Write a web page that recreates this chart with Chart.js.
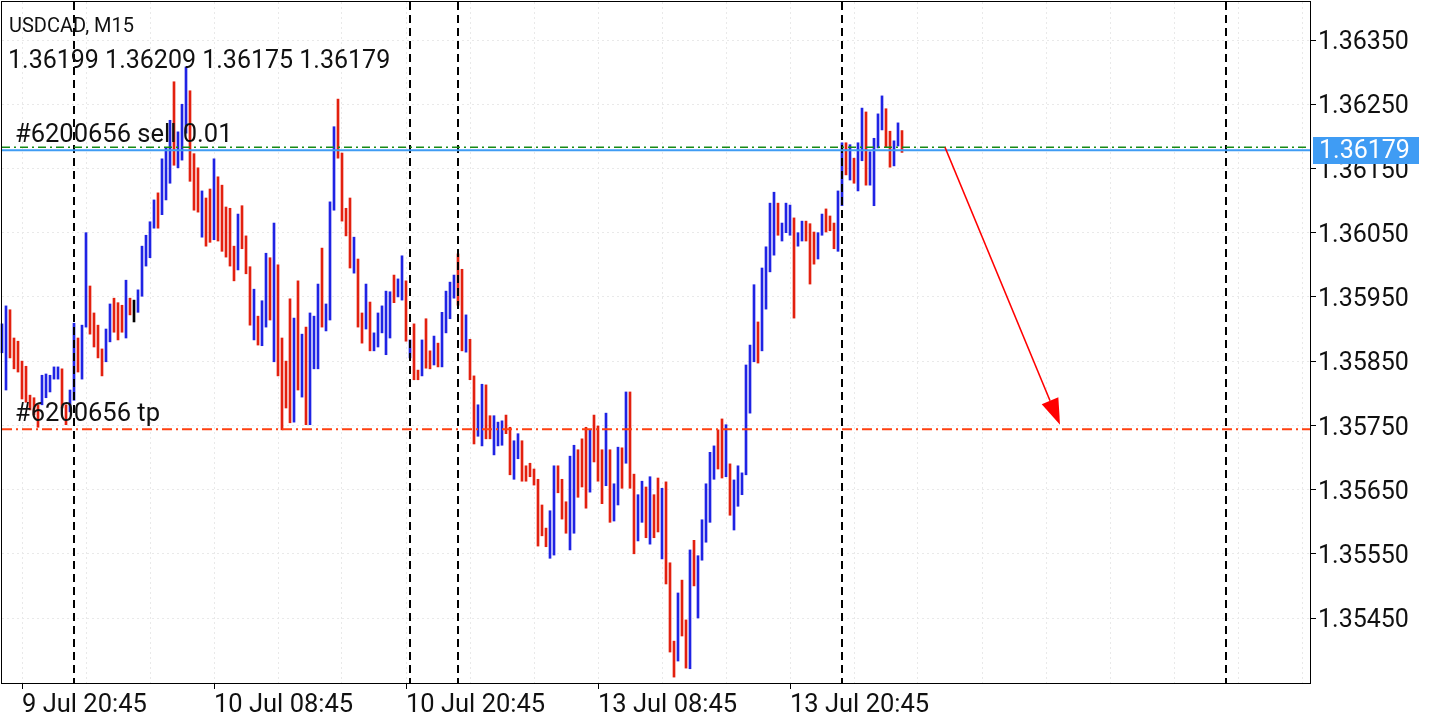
<!DOCTYPE html>
<html><head><meta charset="utf-8">
<script src="https://cdn.jsdelivr.net/npm/chart.js@4.4.1/dist/chart.umd.min.js"></script>
<style>html,body{margin:0;padding:0;background:#fff;}canvas{display:block;}</style>
</head><body>
<canvas id="c" width="1440" height="720"></canvas>
<script>
// ---------- data ----------
const symbol = 'USDCAD, M15';
const lastOHLC = [1.36199, 1.36209, 1.36175, 1.36179];
const highs = [
1.35908,1.35936,1.35930,1.35886,1.35881,1.35850,1.35842,1.35797,1.35793,1.35782,
1.35828,1.35830,1.35828,1.35841,1.35841,1.35838,1.35782,1.35805,1.35909,1.35886,
1.35906,1.36050,1.35967,1.35925,1.35906,1.35869,1.35900,1.35939,1.35948,1.35941,
1.35937,1.35976,1.35948,1.35945,1.35961,1.36029,1.36046,1.36067,1.36101,1.36112,
1.36165,1.36182,1.36225,1.36285,1.36207,1.36250,1.36308,1.36271,1.36173,1.36151,
1.36115,1.36104,1.36118,1.36165,1.36137,1.36124,1.36090,1.36088,1.36029,1.36079,
1.36092,1.36045,1.35997,1.35962,1.35920,1.35944,1.36018,1.36011,1.36065,1.36000,
1.35886,1.35850,1.35947,1.35917,1.35975,1.35892,1.35903,1.35925,1.35920,1.35970,
1.36026,1.35939,1.36098,1.36215,1.36258,1.36174,1.36088,1.36104,1.36043,1.36009,
1.35925,1.35970,1.35942,1.35894,1.35925,1.35936,1.35959,1.35958,1.35984,1.35978,
1.36014,1.35975,1.35883,1.35908,1.35836,1.35883,1.35916,1.35866,1.35889,1.35878,
1.35926,1.35959,1.35973,1.35984,1.36017,1.35993,1.35922,1.35884,1.35827,1.35782,
1.35814,1.35813,1.35765,1.35765,1.35755,1.35757,1.35766,1.35747,1.35726,1.35737,
1.35726,1.35687,1.35691,1.35682,1.35666,1.35626,1.35590,1.35617,1.35687,1.35687,
1.35666,1.35631,1.35702,1.35719,1.35712,1.35729,1.35747,1.35743,1.35766,1.35749,
1.35712,1.35769,1.35712,1.35659,1.35716,1.35715,1.35802,1.35802,1.35674,1.35642,
1.35663,1.35654,1.35670,1.35642,1.35668,1.35652,1.35662,1.35536,1.35414,1.35489,
1.35509,1.35447,1.35556,1.35571,1.35547,1.35603,1.35659,1.35708,1.35718,1.35743,
1.35760,1.35751,1.35690,1.35665,1.35687,1.35676,1.35844,1.35875,1.35969,1.35911,
1.35995,1.36028,1.36096,1.36113,1.36096,1.36065,1.36096,1.36093,1.36073,1.36050,
1.36068,1.36068,1.36064,1.36051,1.36050,1.36079,1.36087,1.36076,1.36065,1.36115,
1.36190,1.36190,1.36187,1.36166,1.36190,1.36244,1.36238,1.36176,1.36197,1.36235,
1.36263,1.36243,1.36208,1.36193,1.36221,1.36209];
const lows = [
1.35863,1.35805,1.35855,1.35838,1.35833,1.35791,1.35786,1.35774,1.35766,1.35747,
1.35782,1.35793,1.35802,1.35822,1.35822,1.35777,1.35751,1.35771,1.35789,1.35833,
1.35822,1.35903,1.35892,1.35872,1.35855,1.35827,1.35849,1.35880,1.35895,1.35883,
1.35895,1.35886,1.35922,1.35911,1.35926,1.35951,1.35998,1.36011,1.36057,1.36057,
1.36078,1.36101,1.36127,1.36155,1.36151,1.36163,1.36205,1.36130,1.36085,1.36082,
1.36043,1.36029,1.36035,1.36039,1.36037,1.36021,1.36012,1.35998,1.35975,1.35992,
1.36025,1.35986,1.35906,1.35883,1.35875,1.35874,1.35903,1.35914,1.35849,1.35827,
1.35743,1.35777,1.35754,1.35755,1.35805,1.35794,1.35751,1.35751,1.35838,1.35838,
1.35903,1.35897,1.35914,1.36085,1.36166,1.36068,1.36045,1.35995,1.35987,1.35903,
1.35878,1.35900,1.35866,1.35866,1.35872,1.35894,1.35860,1.35886,1.35941,1.35950,
1.35945,1.35881,1.35855,1.35821,1.35821,1.35827,1.35839,1.35838,1.35844,1.35841,
1.35841,1.35894,1.35916,1.35948,1.35937,1.35866,1.35864,1.35821,1.35721,1.35733,
1.35718,1.35729,1.35729,1.35704,1.35718,1.35719,1.35737,1.35673,1.35666,1.35698,
1.35663,1.35663,1.35670,1.35657,1.35562,1.35578,1.35561,1.35543,1.35548,1.35645,
1.35604,1.35582,1.35556,1.35582,1.35638,1.35654,1.35621,1.35646,1.35693,1.35663,
1.35628,1.35656,1.35599,1.35601,1.35626,1.35652,1.35691,1.35652,1.35550,1.35570,
1.35599,1.35575,1.35565,1.35575,1.35584,1.35542,1.35503,1.35397,1.35358,1.35383,
1.35422,1.35372,1.35371,1.35500,1.35450,1.35540,1.35568,1.35599,1.35666,1.35682,
1.35668,1.35670,1.35610,1.35587,1.35624,1.35642,1.35673,1.35769,1.35849,1.35847,
1.35866,1.35931,1.35989,1.36015,1.36046,1.36037,1.36050,1.36046,1.35917,1.36029,
1.36037,1.36037,1.35970,1.36001,1.36009,1.36046,1.36051,1.36053,1.36025,1.36021,
1.36092,1.36140,1.36132,1.36127,1.36115,1.36162,1.36124,1.36124,1.36092,1.36182,
1.36210,1.36183,1.36152,1.36154,1.36185,1.36175];
// 1 = close above open, -1 = close below open, 0 = unchanged
const dirs = [
1,1,-1,-1,-1,-1,-1,-1,-1,-1,
1,1,1,1,1,-1,-1,1,1,-1,
1,1,-1,-1,-1,-1,1,1,-1,-1,
-1,1,-1,0,1,1,1,1,1,-1,
1,1,1,-1,1,1,1,-1,-1,-1,
1,-1,-1,1,-1,-1,-1,-1,-1,1,
-1,-1,-1,1,-1,1,1,-1,1,-1,
-1,-1,-1,1,-1,1,-1,1,1,1,
-1,1,1,1,-1,-1,-1,-1,1,-1,
-1,1,-1,1,1,1,1,1,-1,1,
1,-1,1,-1,-1,1,-1,-1,1,-1,
1,1,1,1,-1,-1,1,-1,-1,1,
1,-1,-1,1,1,1,-1,-1,1,1,
-1,-1,-1,-1,-1,-1,-1,1,1,-1,
-1,-1,1,1,-1,-1,-1,1,-1,-1,
-1,1,-1,1,1,-1,1,-1,-1,1,
1,-1,1,-1,-1,1,-1,-1,-1,1,
-1,-1,1,-1,1,1,1,1,1,-1,
-1,1,-1,1,1,1,1,1,1,-1,
1,1,1,1,-1,1,1,1,-1,1,
1,-1,-1,-1,1,1,-1,-1,-1,1,
1,-1,1,-1,1,1,-1,1,1,1,
1,-1,-1,1,1,-1];
const slotCount = 328;                       // bars + empty space on the right
const firstBarTime = Date.UTC(2020, 6, 9, 19, 30);
const barMinutes = 15;
const tickLabels = ['9 Jul 20:45', '10 Jul 08:45', '10 Jul 20:45', '13 Jul 08:45', '13 Jul 20:45'];
const yTicks = [1.35450, 1.35550, 1.35650, 1.35750, 1.35850, 1.35950, 1.36050, 1.36150, 1.36250, 1.36350];
const yMin = 1.353488, yMax = 1.364092;
const bidPrice = 1.36179;
const orderPrice = 1.36183;
const tpPrice = 1.35744;
const orderLabel = '#6200656 sell 0.01';
const tpLabel = '#6200656 tp';
const arrowFrom = { index: 235.75, price: 1.36183 };
const arrowTo = { index: 264.5, price: 1.35751 };

// ---------- derived ----------
const MONTHS = ['Jan','Feb','Mar','Apr','May','Jun','Jul','Aug','Sep','Oct','Nov','Dec'];
const pad2 = n => String(n).padStart(2, '0');
const fmt = t => { const d = new Date(t); return d.getUTCDate() + ' ' + MONTHS[d.getUTCMonth()] + ' ' + pad2(d.getUTCHours()) + ':' + pad2(d.getUTCMinutes()); };
const times = [];
let t = firstBarTime;
for (let i = 0; i < slotCount; i++) {
  times.push(t);
  t += barMinutes * 60000;
  const d = new Date(t);
  if (d.getUTCDay() === 5 && d.getUTCHours() >= 21) t += 48 * 3600000; // weekend gap
}
const labels = times.map(fmt);
const daySeps = [];
for (let i = 1; i < times.length; i++) {
  if (new Date(times[i]).getUTCDate() !== new Date(times[i - 1]).getUTCDate()) daySeps.push(i);
}
const firstLabelIdx = labels.indexOf(tickLabels[0]);
const gridIdx = [];
for (let i = firstLabelIdx % 16; i < slotCount; i += 16) gridIdx.push(i);

const BLUE = '#1f23e4', RED = '#e3200f', DOJI = '#000000';
const barData = labels.map((_, i) => i < highs.length ? [lows[i], highs[i]] : null);
const barColors = labels.map((_, i) => i < dirs.length ? (dirs[i] > 0 ? BLUE : dirs[i] < 0 ? RED : DOJI) : BLUE);
const GRID = '#e9e9e9';
const FONT = 'Roboto';
const zeroPad = s => { s.paddingTop = 0; s.paddingBottom = 0; s.paddingLeft = 0; s.paddingRight = 0; };

const overlay = {
  id: 'overlay',
  afterDatasetsDraw(chart) {
    const ctx = chart.ctx, xs = chart.scales.x, ys = chart.scales.y, a = chart.chartArea;
    ctx.save();
    ctx.beginPath(); ctx.rect(a.left, a.top, a.right - a.left, a.bottom - a.top); ctx.clip();
    // day separators
    ctx.strokeStyle = '#000'; ctx.lineWidth = 2; ctx.setLineDash([8, 5]);
    daySeps.forEach(i => {
      const x = Math.round(xs.getPixelForValue(i));
      ctx.beginPath(); ctx.moveTo(x, a.top); ctx.lineTo(x, a.bottom); ctx.stroke();
    });
    // order open line (green dash-dot)
    const y = ys.getPixelForValue(orderPrice);
    ctx.strokeStyle = '#168a16'; ctx.lineWidth = 1.5; ctx.setLineDash([8, 4, 2, 4]);
    ctx.beginPath(); ctx.moveTo(a.left, y); ctx.lineTo(a.right, y); ctx.stroke();
    // bid line
    const yb = ys.getPixelForValue(bidPrice);
    ctx.strokeStyle = '#3f9cf4'; ctx.lineWidth = 2; ctx.setLineDash([]);
    ctx.beginPath(); ctx.moveTo(a.left, yb + 0.5); ctx.lineTo(a.right, yb + 0.5); ctx.stroke();
    // tp line
    const yt = ys.getPixelForValue(tpPrice);
    ctx.strokeStyle = '#ff4010'; ctx.lineWidth = 2; ctx.setLineDash([10, 4, 2, 4]);
    ctx.beginPath(); ctx.moveTo(a.left, yt); ctx.lineTo(a.right, yt); ctx.stroke();
    ctx.setLineDash([]);
    // texts
    ctx.fillStyle = '#111'; ctx.textBaseline = 'alphabetic'; ctx.textAlign = 'left';
    ctx.font = '20px ' + FONT; ctx.fillText(symbol, 9, 32);
    ctx.font = '25px ' + FONT; ctx.fillText(lastOHLC.map(v => v.toFixed(5)).join(' '), 8, 68);
    ctx.font = '25.5px ' + FONT;
    ctx.fillText(orderLabel, 15, y - 5);
    ctx.fillText(tpLabel, 15, yt - 8);
    // arrow
    const x1 = xs.getPixelForValue(arrowFrom.index), y1 = ys.getPixelForValue(arrowFrom.price);
    const x2 = xs.getPixelForValue(arrowTo.index), y2 = ys.getPixelForValue(arrowTo.price);
    const ang = Math.atan2(y2 - y1, x2 - x1), hl = 26, hw = 9;
    const bx = x2 - hl * Math.cos(ang), by = y2 - hl * Math.sin(ang);
    ctx.strokeStyle = '#ff0000'; ctx.fillStyle = '#ff0000'; ctx.lineWidth = 1.6;
    ctx.beginPath(); ctx.moveTo(x1, y1); ctx.lineTo(bx, by); ctx.stroke();
    ctx.beginPath(); ctx.moveTo(x2, y2);
    ctx.lineTo(bx + hw * Math.sin(ang), by - hw * Math.cos(ang));
    ctx.lineTo(bx - hw * Math.sin(ang), by + hw * Math.cos(ang));
    ctx.closePath(); ctx.fill();
    ctx.restore();
  },
  afterDraw(chart) {
    const ctx = chart.ctx, ys = chart.scales.y, a = chart.chartArea;
    ctx.save();
    ctx.strokeStyle = '#000'; ctx.lineWidth = 1;
    ctx.strokeRect(a.left - 0.5, a.top - 0.5, a.right - a.left + 1, a.bottom - a.top + 1);
    const yb = ys.getPixelForValue(bidPrice);
    ctx.fillStyle = '#3f9cf4';
    ctx.fillRect(a.right + 3, Math.round(yb - 13), 106, 27);
    ctx.fillStyle = '#fff'; ctx.font = '25px ' + FONT; ctx.textBaseline = 'middle'; ctx.textAlign = 'left';
    ctx.fillText(bidPrice.toFixed(5), a.right + 9, yb + 2);
    ctx.restore();
  }
};

new Chart(document.getElementById('c'), {
  type: 'bar',
  data: { labels, datasets: [{ data: barData, backgroundColor: barColors, barThickness: 2, borderWidth: 0, clip: false }] },
  options: {
    responsive: false, animation: false, devicePixelRatio: 1,
    layout: { padding: { left: 2, top: 2, right: 0, bottom: 0 } },
    plugins: { legend: { display: false }, tooltip: { enabled: false } },
    scales: {
      x: {
        type: 'category', offset: false, position: 'bottom',
        afterFit(s) { s.height = 37; zeroPad(s); },
        afterBuildTicks(s) { s.ticks = gridIdx.map(v => ({ value: v })); },
        grid: { offset: false, color: GRID, lineWidth: 1, tickLength: 6, tickWidth: 1,
          tickColor: c => (c.tick && tickLabels.includes(labels[c.tick.value])) ? '#000' : 'rgba(0,0,0,0)' },
        border: { display: false, dash: [2, 3] },
        ticks: { autoSkip: false, maxRotation: 0, minRotation: 0, align: 'start', padding: 1, color: '#111',
          font: { family: FONT, size: 25.5 },
          callback: v => tickLabels.includes(labels[v]) ? labels[v] : '' }
      },
      y: {
        type: 'linear', position: 'right', min: yMin, max: yMax,
        afterFit(s) { s.width = 130; zeroPad(s); },
        afterBuildTicks(s) { s.ticks = yTicks.map(v => ({ value: v })); },
        grid: { color: GRID, lineWidth: 1, tickLength: 6, tickColor: '#000' },
        border: { display: false, dash: [2, 3] },
        ticks: { autoSkip: false, padding: 2, labelOffset: 3, color: '#111', font: { family: FONT, size: 25 },
          callback: v => Number(v).toFixed(5) }
      }
    }
  },
  plugins: [overlay]
});
</script>
</body></html>
